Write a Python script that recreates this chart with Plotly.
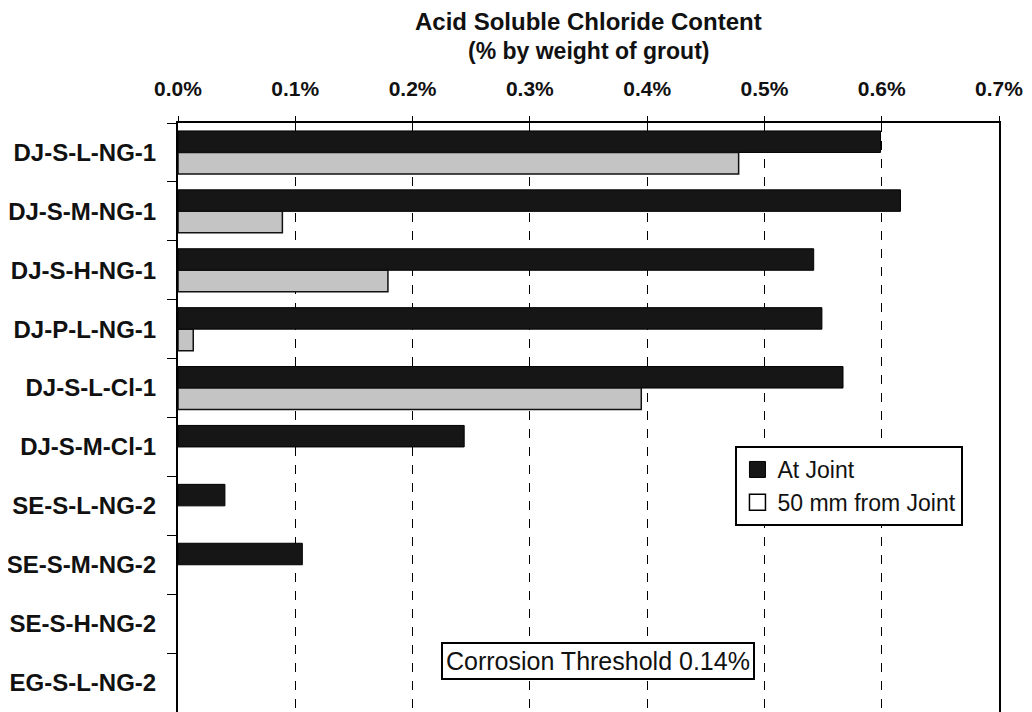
import plotly.graph_objects as go

# Data (values in % by weight of grout)
specimens = [
    "DJ-S-L-NG-1",
    "DJ-S-M-NG-1",
    "DJ-S-H-NG-1",
    "DJ-P-L-NG-1",
    "DJ-S-L-Cl-1",
    "DJ-S-M-Cl-1",
    "SE-S-L-NG-2",
    "SE-S-M-NG-2",
    "SE-S-H-NG-2",
    "EG-S-L-NG-2",
]
at_joint = [0.599, 0.616, 0.542, 0.549, 0.567, 0.244, 0.040, 0.106, None, None]
from_joint_50mm = [0.478, 0.089, 0.179, 0.013, 0.395, None, None, None, None, None]
x_ticks = [0.0, 0.1, 0.2, 0.3, 0.4, 0.5, 0.6, 0.7]
x_tick_labels = ["%.1f%%" % v for v in x_ticks]

FONT = "Liberation Sans, Arial, Helvetica, sans-serif"
INK = "#111111"

fig = go.Figure()

fig.add_trace(
    go.Bar(
        name="At Joint",
        y=specimens,
        x=at_joint,
        orientation="h",
        marker=dict(color="#161616", line=dict(color="#000000", width=1)),
        showlegend=False,
    )
)
fig.add_trace(
    go.Bar(
        name="50 mm from Joint",
        y=specimens,
        x=from_joint_50mm,
        orientation="h",
        marker=dict(color="#c4c4c4", line=dict(color=INK, width=1.5)),
        showlegend=False,
    )
)

# legend-only entries (the legend shows a white box for the 50 mm series)
fig.add_trace(
    go.Scatter(
        name="At Joint",
        x=[None],
        y=[None],
        mode="markers",
        marker=dict(symbol="square", size=17, color="#161616", line=dict(color="#000000", width=1)),
    )
)
fig.add_trace(
    go.Scatter(
        name="50 mm from Joint",
        x=[None],
        y=[None],
        mode="markers",
        marker=dict(symbol="square", size=17, color="#ffffff", line=dict(color="#000000", width=1.5)),
    )
)

# page body has an 8px margin, so the figure is a bit smaller than the window;
# the plot area runs down to the bottom edge (the original is cropped there)
fig.update_layout(
    barmode="group",
    bargap=0.27,
    bargroupgap=0,
    width=1024,
    height=704,
    plot_bgcolor="white",
    paper_bgcolor="white",
    margin=dict(l=170, r=33, t=115, b=0),
    font=dict(family=FONT, color=INK),
    legend=dict(
        x=0.679,
        y=0.4516,
        xanchor="left",
        yanchor="top",
        bgcolor="white",
        bordercolor="black",
        borderwidth=2,
        font=dict(family=FONT, size=23, color=INK),
        itemwidth=30,
        tracegroupgap=0,
        traceorder="normal",
    ),
    showlegend=True,
)

# title, two lines above the top axis
fig.add_annotation(
    text="<b>Acid Soluble Chloride Content</b>",
    xref="paper", yref="paper", x=0.5, y=1, yshift=102, yanchor="middle",
    showarrow=False, font=dict(family=FONT, size=24, color=INK),
)
fig.add_annotation(
    text="<b>(% by weight of grout)</b>",
    xref="paper", yref="paper", x=0.5, y=1, yshift=72, yanchor="middle",
    showarrow=False, font=dict(family=FONT, size=23, color=INK),
)

fig.update_xaxes(
    side="top",
    range=[0, 0.7],
    tickvals=x_ticks,
    ticktext=x_tick_labels,
    tickfont=dict(family=FONT, size=21, weight="bold", color=INK),
    ticks="outside",
    ticklen=5,
    tickcolor="black",
    ticklabelstandoff=12,
    showgrid=True,
    gridcolor="black",
    griddash="dash",
    gridwidth=1,
    showline=True,
    linecolor="black",
    linewidth=2,
    mirror=True,
    zeroline=False,
    automargin=False,
)

fig.update_yaxes(
    autorange="reversed",
    categoryorder="array",
    categoryarray=specimens,
    tickfont=dict(family=FONT, size=24, weight="bold", color=INK),
    ticks="outside",
    tickson="boundaries",
    ticklen=9,
    tickcolor="black",
    ticklabelstandoff=15,
    showgrid=False,
    showline=True,
    linecolor="black",
    linewidth=2,
    mirror=True,
    automargin=False,
)

fig.add_annotation(
    text="Corrosion Threshold 0.14%",
    xref="paper",
    yref="paper",
    x=0.511,
    y=0.0866,
    xanchor="center",
    yanchor="middle",
    showarrow=False,
    font=dict(family=FONT, size=25, color=INK),
    bgcolor="white",
    bordercolor="black",
    borderwidth=2,
    borderpad=3,
)

fig.write_html("out.html")
